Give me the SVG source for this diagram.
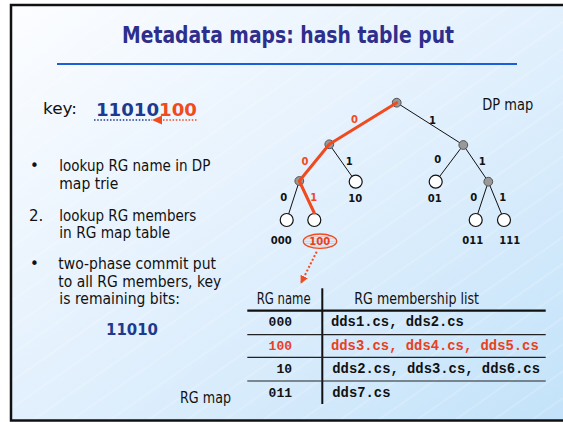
<svg xmlns="http://www.w3.org/2000/svg" width="563" height="422" viewBox="0 0 563 422">
<defs>
<linearGradient id="bg" x1="0" y1="0" x2="1" y2="1">
<stop offset="0" stop-color="#fcfdff"/>
<stop offset="0.5" stop-color="#e2f0fd"/>
<stop offset="1" stop-color="#c2e2f9"/>
</linearGradient>
<pattern id="hatch" width="30" height="22" patternUnits="userSpaceOnUse" patternTransform="rotate(-35)">
<line x1="0" y1="11" x2="30" y2="11" stroke="#ffffff" stroke-opacity="0.45" stroke-width="0.7"/>
</pattern>
<pattern id="ehatch" width="4" height="2.4" patternUnits="userSpaceOnUse">
<line x1="0" y1="1.2" x2="4" y2="1.2" stroke="#f06040" stroke-opacity="0.5" stroke-width="0.6"/>
</pattern>
<marker id="redhead" viewBox="0 0 10 10" refX="9" refY="5" markerWidth="8" markerHeight="8" markerUnits="userSpaceOnUse" orient="auto">
<path d="M0,0 L10,5 L0,10 Z" fill="#f04a1e"/>
</marker>
</defs>
<style>
.body{font-family:"DejaVu Sans","Liberation Sans",sans-serif;font-size:15px;fill:#111}
.edge{stroke:#111;stroke-width:1;fill:none}
.red{stroke:#f04a1e;stroke-width:3;fill:none;stroke-linecap:round;stroke-linejoin:round}
.gray{fill:#999;stroke:#555;stroke-width:1}
.white{fill:#fff;stroke:#111;stroke-width:1.2}
.el{font-family:"DejaVu Sans",sans-serif;font-weight:bold;font-size:10px;fill:#111}
.elr{font-family:"DejaVu Sans",sans-serif;font-weight:bold;font-size:10px;fill:#f04a1e}
.leaf{font-family:"DejaVu Sans",sans-serif;font-weight:bold;font-size:10px;fill:#111}
.mono{font-family:"Liberation Mono","Courier New",monospace;font-weight:bold;font-size:13.85px;fill:#111}
.lbl{font-family:"Liberation Mono","Courier New",monospace;font-weight:bold;font-size:13px;fill:#111}
.rowline{stroke:#222;stroke-width:1.2}
</style>
<rect x="0" y="0" width="563" height="422" fill="#ffffff"/>
<rect x="11" y="5" width="560" height="415.5" fill="url(#bg)"/>
<rect x="11" y="5" width="560" height="415.5" fill="url(#hatch)"/>
<rect x="11" y="5" width="560" height="415.5" fill="none" stroke="#111" stroke-width="2.5"/>

<g id="title">
<text x="288" y="43" text-anchor="middle" textLength="332" lengthAdjust="spacingAndGlyphs" font-family="DejaVu Sans, sans-serif" font-weight="bold" font-size="23" fill="#2e2e8c">Metadata maps: hash table put</text>
<line x1="57" y1="64" x2="517" y2="64" stroke="#1a5fd8" stroke-width="2.2"/>
</g>

<g id="key">
<text x="43" y="114" class="body" font-size="19" textLength="34" lengthAdjust="spacingAndGlyphs">key:</text>
<text x="96" y="115.5" font-family="DejaVu Sans, sans-serif" font-weight="bold" font-size="18" textLength="101" lengthAdjust="spacingAndGlyphs"><tspan fill="#1e3a8f">11010</tspan><tspan fill="#f04a1e">100</tspan></text>
<line x1="94" y1="120" x2="152" y2="120" stroke="#1e3a8f" stroke-width="1.6" stroke-dasharray="1.5 1.7"/>
<line x1="163" y1="120" x2="197" y2="120" stroke="#f04a1e" stroke-width="1.6" stroke-dasharray="1.5 1.7"/>
<path d="M152,120 L162,115.5 L162,124.5 Z" fill="#f04a1e"/>
</g>

<g id="steps">
<text x="30" y="171" class="body">•</text>
<text x="59.3" y="171" class="body" textLength="151" lengthAdjust="spacingAndGlyphs">lookup RG name in DP</text>
<text x="59.3" y="189" class="body" textLength="59" lengthAdjust="spacingAndGlyphs">map trie</text>
<text x="29" y="220.7" class="body">2.</text>
<text x="59.3" y="220.7" class="body" textLength="137" lengthAdjust="spacingAndGlyphs">lookup RG members</text>
<text x="59.3" y="238.3" class="body" textLength="111" lengthAdjust="spacingAndGlyphs">in RG map table</text>
<text x="30" y="269" class="body">•</text>
<text x="58.3" y="269" class="body" textLength="157.7" lengthAdjust="spacingAndGlyphs">two-phase commit put</text>
<text x="58.3" y="286.7" class="body" textLength="163" lengthAdjust="spacingAndGlyphs">to all RG members, key</text>
<text x="59.3" y="304.3" class="body" textLength="120.7" lengthAdjust="spacingAndGlyphs">is remaining bits:</text>
<text x="106" y="335" font-family="DejaVu Sans, sans-serif" font-weight="bold" font-size="15" fill="#1e3a8f" textLength="52" lengthAdjust="spacingAndGlyphs">11010</text>
</g>

<g id="connectors">
<line class="edge" x1="396.7" y1="102.7" x2="463.3" y2="145"/>
<line class="edge" x1="329.3" y1="144.3" x2="355.7" y2="181.7"/>
<line class="edge" x1="463.3" y1="145" x2="435.7" y2="181.7"/>
<line class="edge" x1="463.3" y1="145" x2="488.3" y2="181.7"/>
<line class="edge" x1="299.3" y1="181" x2="286.7" y2="220"/>
<line class="edge" x1="488.3" y1="181.7" x2="475.7" y2="220"/>
<line class="edge" x1="488.3" y1="181.7" x2="504" y2="220"/>
<line x1="316.7" y1="251.7" x2="301" y2="283" stroke="#f04a1e" stroke-width="2" stroke-dasharray="2 2" marker-end="url(#redhead)"/>
</g>

<g id="dpmap-label"><text x="482.3" y="110" class="body" font-size="14" textLength="51" lengthAdjust="spacingAndGlyphs">DP map</text></g>

<g id="n-root"><circle class="gray" cx="396.7" cy="102.7" r="4.4"/></g>
<g id="n-0"><circle class="gray" cx="329.3" cy="144.3" r="4.4"/></g>
<g id="n-1"><circle class="gray" cx="463.3" cy="145" r="4.4"/></g>
<g id="n-00"><circle class="gray" cx="299.3" cy="181" r="4.4"/></g>
<g id="n-10"><circle class="white" cx="355.7" cy="181.7" r="6.5"/><text x="355.3" y="201.7" text-anchor="middle" class="leaf">10</text></g>
<g id="n-01"><circle class="white" cx="435.7" cy="181.7" r="6.5"/><text x="434.7" y="201.7" text-anchor="middle" class="leaf">01</text></g>
<g id="n-11"><circle class="gray" cx="488.3" cy="181.7" r="4.4"/></g>
<g id="n-000"><circle class="white" cx="286.7" cy="220" r="6.5"/><text x="281.2" y="244" text-anchor="middle" class="leaf">000</text></g>
<g id="n-100"><circle class="white" cx="314.3" cy="220" r="6.5"/>
<ellipse cx="320" cy="241.2" rx="16.7" ry="7.2" fill="url(#ehatch)" stroke="#f04a1e" stroke-width="1.3"/>
<text x="319.7" y="244.5" text-anchor="middle" class="leaf" style="fill:#e8401c">100</text></g>
<g id="n-011"><circle class="white" cx="475.7" cy="220" r="6.5"/><text x="472.8" y="244" text-anchor="middle" class="leaf">011</text></g>
<g id="n-111"><circle class="white" cx="504" cy="220" r="6.5"/><text x="509.7" y="244" text-anchor="middle" class="leaf">111</text></g>

<g id="red-path">
<polyline class="red" points="396.7,102.7 329.3,144.3 299.3,181 314.3,213"/>
</g>

<g id="edge-labels">
<text x="354.5" y="123.3" text-anchor="middle" class="elr">0</text>
<text x="432.5" y="124" text-anchor="middle" class="el">1</text>
<text x="305" y="165" text-anchor="middle" class="elr">0</text>
<text x="349.3" y="165" text-anchor="middle" class="el">1</text>
<text x="437.8" y="163.3" text-anchor="middle" class="el">0</text>
<text x="482.2" y="165" text-anchor="middle" class="el">1</text>
<text x="283.8" y="200.7" text-anchor="middle" class="el">0</text>
<text x="313.8" y="200.7" text-anchor="middle" class="elr">1</text>
<text x="473.8" y="200.7" text-anchor="middle" class="el">0</text>
<text x="502.8" y="200.7" text-anchor="middle" class="el">1</text>
</g>

<g id="rg-table">
<line x1="322.3" y1="288.3" x2="322.3" y2="404" stroke="#111" stroke-width="2"/>
<line x1="247.3" y1="310.7" x2="545.7" y2="310.7" stroke="#111" stroke-width="2.3"/>
<line class="rowline" x1="247.3" y1="334.7" x2="545.7" y2="334.7"/>
<line class="rowline" x1="247.3" y1="357.3" x2="545.7" y2="357.3"/>
<line class="rowline" x1="247.3" y1="381" x2="545.7" y2="381"/>
<text x="256.7" y="304" class="body" font-size="13.5" textLength="54" lengthAdjust="spacingAndGlyphs">RG name</text>
<text x="354.3" y="304" class="body" font-size="13.5" textLength="124.7" lengthAdjust="spacingAndGlyphs">RG membership list</text>
<text x="292" y="326" text-anchor="end" class="lbl">000</text>
<text x="331" y="326" class="mono">dds1.cs, dds2.cs</text>
<text x="292" y="350" text-anchor="end" class="lbl" style="fill:#e8401c">100</text>
<text x="331" y="350" class="mono" style="fill:#e8401c">dds3.cs, dds4.cs, dds5.cs</text>
<text x="292" y="372.7" text-anchor="end" class="lbl">10</text>
<text x="332.3" y="372.7" class="mono">dds2.cs, dds3.cs, dds6.cs</text>
<text x="292" y="396.7" text-anchor="end" class="lbl">011</text>
<text x="332.3" y="396.7" class="mono">dds7.cs</text>
</g>
<g id="rgmap-label"><text x="180" y="402.7" class="body" font-size="14" textLength="51" lengthAdjust="spacingAndGlyphs">RG map</text></g>
</svg>
